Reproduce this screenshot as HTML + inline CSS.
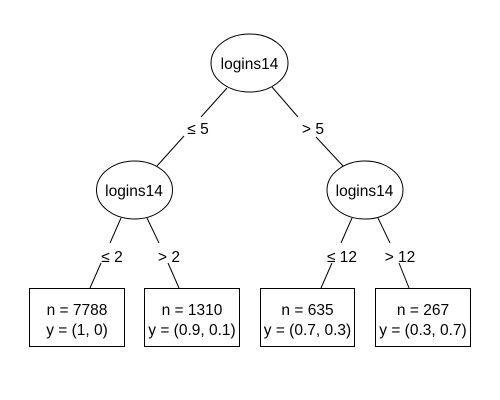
<!DOCTYPE html>
<html><head><meta charset="utf-8"><style>
html,body{margin:0;padding:0;background:#fff;width:500px;height:400px;overflow:hidden}
svg{display:block}
text{font-family:"Liberation Sans",Arial,sans-serif;font-size:15.5px;fill:#000}
</style></head><body>
<svg width="500" height="400" viewBox="0 0 500 400" xmlns="http://www.w3.org/2000/svg">
<g stroke="#000" stroke-width="1" fill="none">
<ellipse cx="249.5" cy="63" rx="38.5" ry="29"/>
<ellipse cx="134.5" cy="190" rx="38" ry="29"/>
<ellipse cx="365" cy="190" rx="38" ry="29"/>
<rect x="29.5" y="288.5" width="95" height="58"/>
<rect x="144.5" y="288.5" width="95" height="58"/>
<rect x="260.5" y="288.5" width="94" height="58"/>
<rect x="375.5" y="288.5" width="95" height="58"/>
<line x1="227" y1="88" x2="201" y2="117"/>
<line x1="184" y1="136" x2="157" y2="166"/>
<line x1="272" y1="87" x2="298" y2="117"/>
<line x1="316" y1="137" x2="343" y2="166"/>
<line x1="121" y1="218" x2="110" y2="243"/>
<line x1="101" y1="263" x2="90" y2="288"/>
<line x1="147" y1="218" x2="159" y2="243"/>
<line x1="168" y1="263" x2="179" y2="288"/>
<line x1="352" y1="218" x2="341" y2="243"/>
<line x1="332" y1="263" x2="321" y2="288"/>
<line x1="378" y1="218" x2="390" y2="243"/>
<line x1="399" y1="263" x2="409" y2="288"/>
</g>
<g text-anchor="middle">
<text x="249.5" y="69">logins14</text>
<text x="134" y="196">logins14</text>
<text x="364.5" y="196">logins14</text>
<text x="198" y="134">≤ 5</text>
<text x="313" y="134">&gt; 5</text>
<text x="112" y="262">≤ 2</text>
<text x="169" y="262">&gt; 2</text>
<text x="342" y="262">≤ 12</text>
<text x="400" y="262">&gt; 12</text>
<text x="77" y="315">n = 7788</text>
<text x="77" y="335">y = (1, 0)</text>
<text x="192" y="315">n = 1310</text>
<text x="192" y="335">y = (0.9, 0.1)</text>
<text x="307.5" y="315">n = 635</text>
<text x="307.5" y="335">y = (0.7, 0.3)</text>
<text x="423" y="315">n = 267</text>
<text x="423" y="335">y = (0.3, 0.7)</text>
</g>
</svg>
</body></html>
